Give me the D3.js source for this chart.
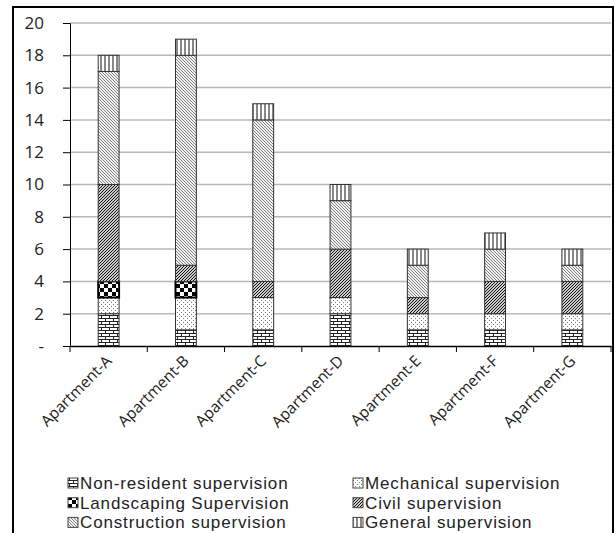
<!DOCTYPE html>
<html><head><meta charset="utf-8">
<script src="https://cdn.jsdelivr.net/npm/d3@7"></script>
<style>body{margin:0;background:#fff;} svg{display:block;}</style>
</head><body>
<svg id="c" width="616" height="533"></svg>
<script>
const categories = ["Apartment-A","Apartment-B","Apartment-C","Apartment-D","Apartment-E","Apartment-F","Apartment-G"];
const seriesNames = ["Non-resident supervision","Mechanical supervision","Landscaping Supervision","Civil supervision","Construction supervision","General supervision"];
const nonResident = [2,1,1,2,1,1,1];
const mechanical  = [1,2,2,1,1,1,1];
const landscaping = [1,1,0,0,0,0,0];
const civil       = [6,1,1,3,1,2,2];
const construction= [7,13,10,3,2,2,1];
const general     = [1,1,1,1,1,1,1];
const yTicks = [0,2,4,6,8,10,12,14,16,18,20];

const seriesValues = [nonResident, mechanical, landscaping, civil, construction, general];
const keys = ["nr","mech","land","civil","cons","gen"];
const rows = categories.map((c,i)=>{const o={cat:c}; keys.forEach((k,j)=>o[k]=seriesValues[j][i]); return o;});

const svg = d3.select("#c");
const defs = svg.append("defs");
function pat(id,w,h,draw){const p=defs.append("pattern").attr("id",id).attr("patternUnits","userSpaceOnUse").attr("width",w).attr("height",h);p.append("rect").attr("width",w).attr("height",h).attr("fill","#fff");draw(p);}
pat("p-nr",8,6,p=>{
  p.append("path").attr("d","M0,0.5H8M0,3.5H8M1.5,0V3.5M5.5,3.5V6").attr("stroke","#222").attr("stroke-width",1).attr("fill","none");
});
pat("p-mech",4,4,p=>{
  p.append("rect").attr("x",1).attr("y",0).attr("width",1).attr("height",1).attr("fill","#777");
  p.append("rect").attr("x",3).attr("y",2).attr("width",1).attr("height",1).attr("fill","#777");
});
pat("p-land",8,8,p=>{
  p.select("rect").attr("fill","#000");
  p.append("rect").attr("x",0).attr("y",0).attr("width",4).attr("height",4).attr("fill","#fff");
  p.append("rect").attr("x",4).attr("y",4).attr("width",4).attr("height",4).attr("fill","#fff");
});
pat("p-civil",3,3,p=>{
  p.select("rect").attr("fill","#ccc");
  p.append("path").attr("d","M-1,1L1,-1M0,3L3,0M2,4L4,2").attr("stroke","#111").attr("stroke-width",1);
});
pat("p-cons",3,3,p=>{
  p.select("rect").attr("fill","#f2f2f2");
  p.append("path").attr("d","M-1,2L1,4M0,0L3,3M2,-1L4,1").attr("stroke","#666").attr("stroke-width",0.8);
});
pat("p-gen",4,4,p=>{
  p.append("path").attr("d","M1,0V4").attr("stroke","#111").attr("stroke-width",1);
});

const L=70,R=611,T=23,B=346;
const x = d3.scaleBand().domain(categories).range([L,R]).paddingInner(0.73).paddingOuter(0.365);
const xb = d3.scaleBand().domain(categories).range([L,R]);
const y = d3.scaleLinear().domain([0,20]).range([B,T]);

// frame
svg.append("rect").attr("x",13).attr("y",7).attr("width",600).attr("height",540).attr("fill","none").attr("stroke","#000").attr("stroke-width",2);

// gridlines
svg.append("g").selectAll("line").data(yTicks.filter(d=>d>0)).join("line")
  .attr("x1",L).attr("x2",R).attr("y1",d=>y(d)).attr("y2",d=>y(d))
  .attr("stroke","#b8b8b8").attr("stroke-width",1.5);

const stack = d3.stack().keys(keys)(rows);
const g = svg.append("g");
stack.forEach((layer,li)=>{
  g.selectAll(null).data(layer.filter(d=>d[1]>d[0])).join("rect")
    .attr("x",d=>x(d.data.cat)).attr("width",x.bandwidth())
    .attr("y",d=>y(d[1])).attr("height",d=>y(d[0])-y(d[1]))
    .attr("fill",`url(#p-${keys[li]})`)
    .attr("stroke",keys[li]==="land"?"#000":"#333").attr("stroke-width",keys[li]==="land"?2:1);
});

// y axis
const ya = svg.append("g").attr("transform",`translate(${L},0)`)
  .call(d3.axisLeft(y).tickValues(yTicks).tickSize(7).tickPadding(19).tickFormat(d=>d===0?"-":d));
ya.select(".domain").attr("stroke","#000");
ya.selectAll(".tick line").attr("stroke","#000");
ya.selectAll("text").attr("font-family","Open Sans").attr("font-size",17).attr("fill","#222");

// x axis
const xa = svg.append("g").attr("transform",`translate(0,${B})`)
  .call(d3.axisBottom(xb).tickSize(0).tickFormat(""));
xa.select(".domain").attr("stroke","#000").attr("stroke-width",1.5);
xa.selectAll(".tick").remove();
svg.append("g").selectAll("line").data(categories.map(c=>xb(c)).concat([R])).join("line")
  .attr("x1",d=>d).attr("x2",d=>d).attr("y1",B).attr("y2",B+6).attr("stroke","#000");
svg.append("g").selectAll("text").data(categories).join("text")
  .attr("transform",c=>`translate(${xb(c)+xb.bandwidth()/2+4},${B+16}) rotate(-45)`)
  .attr("text-anchor","end").attr("font-family","Open Sans").attr("font-size",15.5).attr("fill","#222")
  .text(c=>c);

// legend
const lg = svg.append("g");
seriesNames.forEach((n,i)=>{
  const col=i%2,row=Math.floor(i/2);
  const lx = col===0?68:353, ly = 483+row*19.7;
  lg.append("rect").attr("x",lx).attr("y",ly-5).attr("width",10).attr("height",10)
    .attr("fill",`url(#p-${keys[i]})`).attr("stroke","#444").attr("stroke-width",1);
  lg.append("text").attr("x",lx+12).attr("y",ly).attr("dy","0.35em")
    .attr("font-family","Liberation Sans").attr("font-size",17).attr("letter-spacing",0.85).attr("fill","#222").text(n);
});
</script>
</body></html>
